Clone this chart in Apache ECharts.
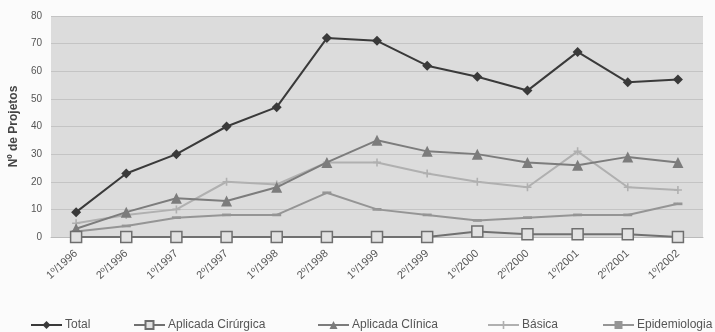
<!DOCTYPE html>
<html>
<head>
<meta charset="utf-8">
<script src="https://cdn.jsdelivr.net/npm/echarts@6/dist/echarts.min.js"></script>
<style>
  html, body { margin: 0; padding: 0; background: #fbfbfb; }
  #chart { width: 715px; height: 332px; }
</style>
</head>
<body>
<div id="chart"></div>
<script>
// Semesters on the category axis
const semestres = ['1º/1996', '2º/1996', '1º/1997', '2º/1997', '1º/1998', '2º/1998', '1º/1999',
                   '2º/1999', '1º/2000', '2º/2000', '1º/2001', '2º/2001', '1º/2002'];

// Number of projects per research area
const total          = [9, 23, 30, 40, 47, 72, 71, 62, 58, 53, 67, 56, 57];
const cirurgica      = [0, 0, 0, 0, 0, 0, 0, 0, 2, 1, 1, 1, 0];
const clinica        = [3, 9, 14, 13, 18, 27, 35, 31, 30, 27, 26, 29, 27];
const basica         = [5, 8, 10, 20, 19, 27, 27, 23, 20, 18, 31, 18, 17];
const epidemiologia  = [2, 4, 7, 8, 8, 16, 10, 8, 6, 7, 8, 8, 12];

const serieNames = ['Total', 'Aplicada Cirúrgica', 'Aplicada Clínica', 'Básica', 'Epidemiologia'];

const yTicks = { min: 0, max: 80, interval: 10 };

const plusIcon = 'path://M4,0 L6,0 L6,4 L10,4 L10,6 L6,6 L6,10 L4,10 L4,6 L0,6 L0,4 L4,4 Z';
const dashIcon = 'path://M0,0 L10,0 L10,3 L0,3 Z';

function lineSeries(name, data, color, symbol, size, extra) {
  return Object.assign({
    name: name,
    type: 'line',
    data: data,
    symbol: symbol,
    symbolSize: size,
    symbolKeepAspect: true,
    showAllSymbol: true,
    lineStyle: { color: color, width: 2 },
    itemStyle: { color: color },
    emphasis: { disabled: true }
  }, extra || {});
}

// One legend block per series so each entry sits at its own spot
const legendLefts = [25, 128, 312, 482, 597];
const legends = serieNames.map((n, i) => ({
  data: [n],
  left: legendLefts[i],
  top: 314,
  itemWidth: 31,
  itemHeight: 10,
  itemGap: 0,
  selectedMode: false,
  textStyle: { fontFamily: 'Liberation Sans', fontSize: 12, color: '#555', padding: [0, 0, 0, -2] }
}));

const chart = echarts.init(document.getElementById('chart'));
chart.setOption({
  backgroundColor: '#fbfbfb',
  animation: false,
  grid: {
    left: 51, right: 12, top: 16, bottom: 95,
    show: true, backgroundColor: '#dcdcdc', borderWidth: 0
  },
  legend: legends,
  xAxis: {
    type: 'category',
    data: semestres,
    boundaryGap: true,
    axisLine: { show: true, lineStyle: { color: '#bbb' } },
    axisTick: { show: false },
    axisLabel: {
      rotate: 42, interval: 0, margin: 15,
      fontFamily: 'Liberation Sans', fontSize: 11, color: '#555'
    }
  },
  yAxis: {
    type: 'value',
    min: yTicks.min, max: yTicks.max, interval: yTicks.interval,
    name: 'Nº de Projetos',
    nameLocation: 'middle',
    nameGap: 28,
    nameTextStyle: { fontFamily: 'Liberation Sans', fontSize: 12, fontWeight: 'bold', color: '#444' },
    axisLine: { show: false },
    axisTick: { show: false },
    axisLabel: { fontFamily: 'Liberation Sans', fontSize: 10, color: '#555', margin: 9 },
    splitLine: { show: true, lineStyle: { color: '#c4c4c4', width: 1 } }
  },
  series: [
    lineSeries('Total', total, '#3a3a3a', 'diamond', 10, { z: 6 }),
    lineSeries('Aplicada Cirúrgica', cirurgica, '#707070', 'rect', 11, {
      itemStyle: { color: '#e2e2e2', borderColor: '#6e6e6e', borderWidth: 1.5 },
      z: 5
    }),
    lineSeries('Aplicada Clínica', clinica, '#7c7c7c', 'triangle', 11, { z: 4 }),
    lineSeries('Básica', basica, '#b0b0b0', plusIcon, 8, { z: 2 }),
    lineSeries('Epidemiologia', epidemiologia, '#959595', dashIcon, 9, { z: 3 })
  ]
});
</script>
</body>
</html>
